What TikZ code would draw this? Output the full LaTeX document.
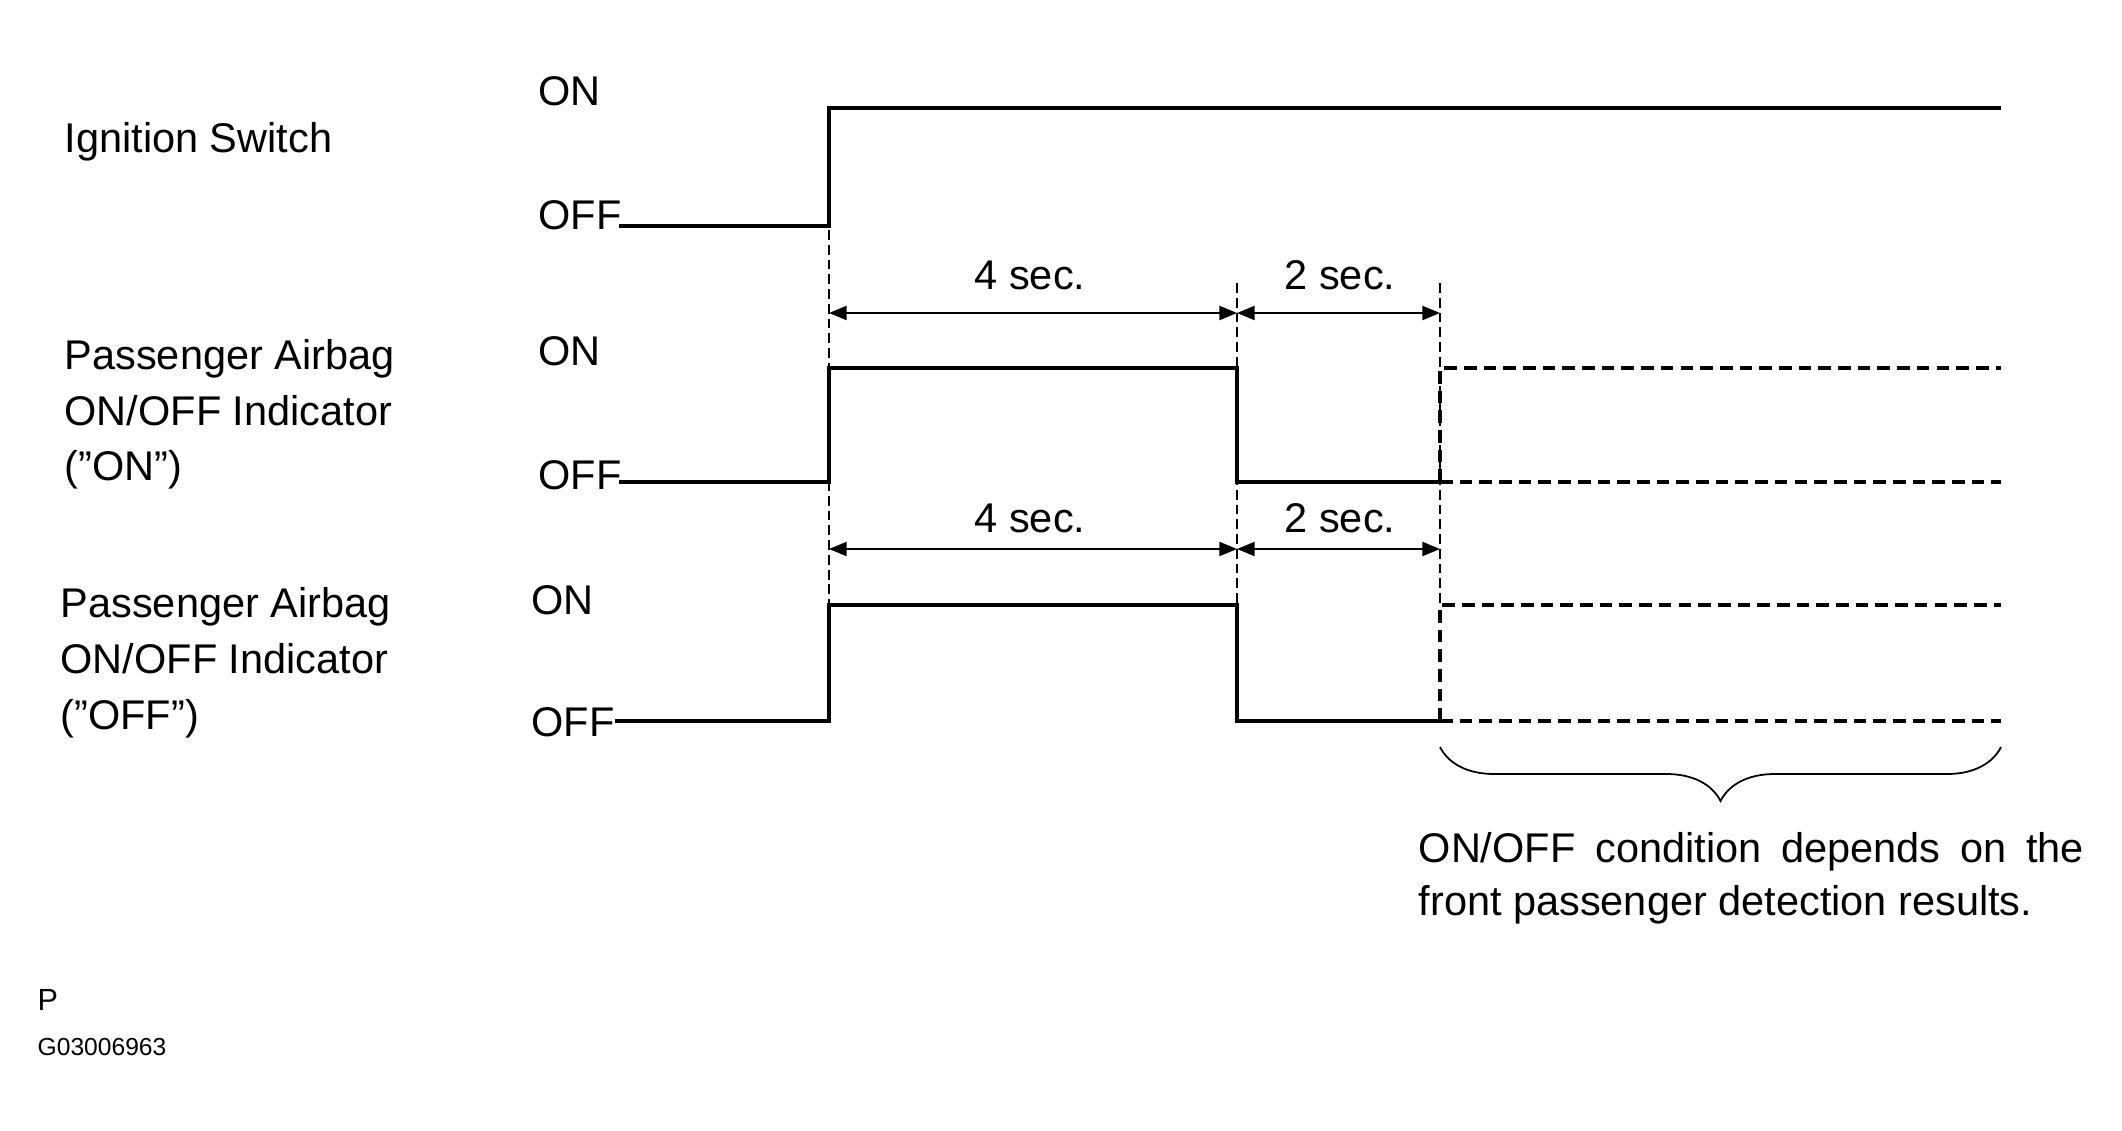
\documentclass[tikz,border=0pt]{standalone}
\usepackage{fontspec}
\setmainfont{Liberation Sans}
\usetikzlibrary{arrows.meta,decorations.pathreplacing}

\begin{document}
\begin{tikzpicture}[x=0.01cm, y=-0.01cm,
	every node/.style={inner sep=0pt, font=\fontsize{11.8}{15.9}\selectfont},
	level/.style={anchor=base west},
	sig/.style={line width=1.2pt},
	open/.style={line width=1.2pt, dash pattern=on 3.6pt off 2pt},
	guide/.style={line width=0.4pt, dash pattern=on 2.8pt off 1.4pt},
	span/.style={line width=0.5pt, {Triangle[length=5pt,width=4pt]}-{Triangle[length=5pt,width=4pt]}}]

	\useasboundingbox (0,0) rectangle (2122,1131);

	% signal names
	\node[level] (ign) at (64,153) {Ignition Switch};
	\node[level, align=left] (pon) at (64,481) {Passenger Airbag\\ON/OFF Indicator\\(”ON”)};
	\node[level, align=left] (poff) at (60,729) {Passenger Airbag\\ON/OFF Indicator\\(”OFF”)};

	% levels
	\node[level] (ion) at (538,106) {ON};
	\node[level] (ioff) at (538,230) {OFF};
	\node[level] (aon) at (538,366) {ON};
	\node[level] (aoff) at (538,490) {OFF};
	\node[level] (bon) at (531,614) {ON};
	\node[level] (boff) at (531,736) {OFF};

	% time marks
	\coordinate (t0) at (829,0);
	\coordinate (t1) at (1237,0);
	\coordinate (t2) at (1440,0);
	\coordinate (tend) at (2001,0);

	\draw[guide] (t0 |- 0,230) -- (t0 |- 0,605);
	\draw[guide] (t1 |- 0,283) -- (t1 |- 0,605);
	\draw[guide] (t2 |- 0,283) -- (t2 |- 0,605);

	% ignition
	\draw[sig] (619,226) -- (t0 |- 0,226) -- (t0 |- 0,108) -- (tend |- 0,108);

	% indicator "ON"
	\draw[sig] (619,482) -- (t0 |- 0,482) -- (t0 |- 0,368) -- (t1 |- 0,368)
		-- (t1 |- 0,482) -- (t2 |- 0,482);
	\draw[open] (t2 |- 0,482) -- (t2 |- 0,368) -- (tend |- 0,368);
	\draw[open] (t2 |- 0,482) -- (tend |- 0,482);

	% indicator "OFF"
	\draw[sig] (615,721) -- (t0 |- 0,721) -- (t0 |- 0,605) -- (t1 |- 0,605)
		-- (t1 |- 0,721) -- (t2 |- 0,721);
	\draw[open] (t2 |- 0,721) -- (t2 |- 0,605) -- (tend |- 0,605);
	\draw[open] (t2 |- 0,721) -- (tend |- 0,721);

	% durations
	\draw[span] (t0 |- 0,313) -- (t1 |- 0,313);
	\draw[span] (t1 |- 0,313) -- (t2 |- 0,313);
	\draw[span] (t0 |- 0,549) -- (t1 |- 0,549);
	\draw[span] (t1 |- 0,549) -- (t2 |- 0,549);
	\node[anchor=base] (fourA) at (1030,290) {4 sec.};
	\node[anchor=base] (twoA) at (1340,290) {2 sec.};
	\node[anchor=base] (fourB) at (1030,533) {4 sec.};
	\node[anchor=base] (twoB) at (1340,533) {2 sec.};

	% brace and note
	\draw[decorate, decoration={brace, mirror, amplitude=0.54cm}, line width=0.5pt]
		(t2 |- 0,747) -- (tend |- 0,747);
	\node[level, text width=6.65cm, align=justify, font=\fontsize{11.8}{15.3}\selectfont] (note) at (1418,862)
		{ON/OFF condition depends on the front passenger detection results.};

	\node[level, font=\fontsize{8.7}{10}\selectfont] (pcode) at (37,1010) {P};
	\node[level, font=\fontsize{7}{8}\selectfont] (gcode) at (37,1055) {G03006963};
\end{tikzpicture}
\end{document}
